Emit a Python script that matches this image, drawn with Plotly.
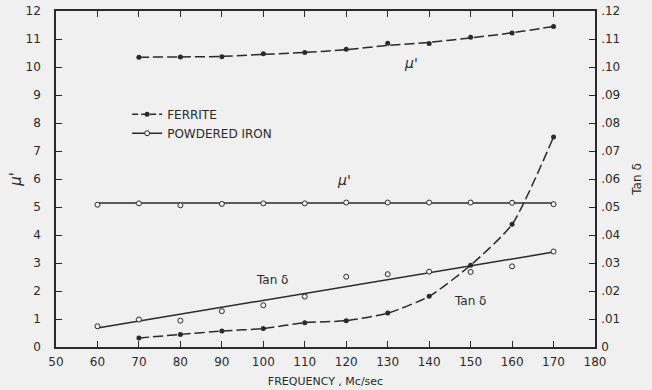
import plotly.graph_objects as go

# ---- data ----
freq_ferrite = [70, 80, 90, 100, 110, 120, 130, 140, 150, 160, 170]
ferrite_mu = [10.35, 10.36, 10.37, 10.47, 10.52, 10.63, 10.85, 10.84, 11.06, 11.21, 11.45]
ferrite_mu_curve = [10.35, 10.36, 10.38, 10.45, 10.52, 10.62, 10.77, 10.88, 11.04, 11.22, 11.45]
ferrite_tan = [0.0032, 0.0045, 0.0057, 0.0066, 0.0087, 0.0094, 0.0121, 0.0181, 0.0292, 0.0438, 0.075]

freq_iron = [60, 70, 80, 90, 100, 110, 120, 130, 140, 150, 160, 170]
iron_mu = [5.08, 5.13, 5.06, 5.11, 5.13, 5.13, 5.16, 5.16, 5.16, 5.16, 5.15, 5.10]
iron_tan = [0.0074, 0.0098, 0.0094, 0.0128, 0.0149, 0.0180, 0.0251, 0.0260, 0.0269, 0.0268, 0.0288, 0.0341]

# fitted lines drawn for powdered iron
iron_fit_x = [60, 170]
iron_mu_fit = [5.14, 5.14]
iron_tan_fit = [0.0068, 0.0339]

x_ticks = list(range(50, 190, 10))
y_ticks = list(range(0, 13))
y2_ticks = [i / 100 for i in range(0, 13)]
y2_labels = ["0"] + [".%02d" % i for i in range(1, 13)]

INK = "#2a2a2a"
BG = "#f0f0f0"
FONT = "DejaVu Sans"
DASH = "10px,4px"

fig = go.Figure()

# Ferrite mu' : smooth dashed curve + points
fig.add_trace(go.Scatter(
    x=freq_ferrite, y=ferrite_mu_curve, mode="lines", showlegend=False,
    line=dict(color=INK, width=1.5, dash=DASH, shape="spline", smoothing=0.8)))
fig.add_trace(go.Scatter(
    x=freq_ferrite, y=ferrite_mu, mode="markers", showlegend=False,
    marker=dict(symbol="circle", size=5, color=INK)))

# legend entries
fig.add_trace(go.Scatter(
    x=[None], y=[None], mode="lines+markers", name="FERRITE",
    line=dict(color=INK, width=1.5, dash="6px,3px"),
    marker=dict(symbol="circle", size=5, color=INK)))
fig.add_trace(go.Scatter(
    x=[None], y=[None], mode="lines+markers", name="POWDERED IRON",
    line=dict(color=INK, width=1.5),
    marker=dict(symbol="circle", size=5, color=BG, line=dict(width=1, color=INK))))

# Powdered iron mu' fit line + points
fig.add_trace(go.Scatter(
    x=iron_fit_x, y=iron_mu_fit, mode="lines", showlegend=False,
    line=dict(color=INK, width=1.5)))
fig.add_trace(go.Scatter(
    x=freq_iron, y=iron_mu, mode="markers", showlegend=False,
    marker=dict(symbol="circle", size=5, color=BG, line=dict(width=1, color=INK))))

# Powdered iron tan delta fit line + points (right axis)
fig.add_trace(go.Scatter(
    x=iron_fit_x, y=iron_tan_fit, mode="lines", showlegend=False, yaxis="y2",
    line=dict(color=INK, width=1.5)))
fig.add_trace(go.Scatter(
    x=freq_iron, y=iron_tan, mode="markers", showlegend=False, yaxis="y2",
    marker=dict(symbol="circle", size=5, color=BG, line=dict(width=1, color=INK))))

# Ferrite tan delta (right axis)
fig.add_trace(go.Scatter(
    x=freq_ferrite, y=ferrite_tan, mode="lines+markers", showlegend=False, yaxis="y2",
    line=dict(color=INK, width=1.5, dash=DASH, shape="spline", smoothing=0.6),
    marker=dict(symbol="circle", size=5, color=INK)))

annots = [
    dict(x=135.5, y=10.15, text="<i>μ'</i>", yref="y", size=14),
    dict(x=119.5, y=5.95, text="<i>μ'</i>", yref="y", size=14),
    dict(x=102.2, y=0.0241, text="Tan δ", yref="y2", size=12),
    dict(x=149.9, y=0.0163, text="Tan δ", yref="y2", size=12),
]
for a in annots:
    fig.add_annotation(x=a["x"], y=a["y"], xref="x", yref=a["yref"], text=a["text"],
                       showarrow=False, font=dict(family=FONT, size=a["size"], color=INK))

fig.update_layout(
    width=652, height=390,
    margin=dict(l=56, r=57, t=11, b=43, pad=0, autoexpand=False),
    paper_bgcolor=BG, plot_bgcolor=BG,
    font=dict(family=FONT, size=12, color=INK),
    showlegend=True,
    legend=dict(x=0.132, y=0.736, xanchor="left", yanchor="top",
                bgcolor="rgba(0,0,0,0)", font=dict(family=FONT, size=12, color=INK),
                tracegroupgap=0),
    xaxis=dict(range=[50, 180], tickvals=x_ticks, ticks="inside", ticklen=6,
               tickwidth=1, tickcolor=INK, showline=True, linewidth=1.5, linecolor=INK,
               mirror="ticks", showgrid=False, zeroline=False, automargin=False,
               tickfont=dict(size=12), ticklabelstandoff=3,
               title=dict(text="FREQUENCY , Mc/sec", font=dict(size=11), standoff=9)),
    yaxis=dict(range=[0, 12], tickvals=y_ticks, ticks="inside", ticklen=6,
               tickwidth=1, tickcolor=INK, showline=True, linewidth=1.5, linecolor=INK,
               showgrid=False, zeroline=False, automargin=False,
               tickfont=dict(size=12), ticklabelstandoff=11,
               title=dict(text="<i>μ'</i>", font=dict(size=15), standoff=0)),
    yaxis2=dict(range=[0, 0.12], tickvals=y2_ticks, ticktext=y2_labels, overlaying="y",
                side="right", ticks="inside", ticklen=6, tickwidth=1, tickcolor=INK,
                showline=True, linewidth=1.5, linecolor=INK, showgrid=False, zeroline=False,
                automargin=False, tickfont=dict(size=12), ticklabelstandoff=2,
                title=dict(text="Tan δ", font=dict(size=12), standoff=13)),
)

fig.write_html("out.html", config={"displayModeBar": False},
               post_script="document.body.style.margin='0px';document.body.style.background='%s';" % BG)
